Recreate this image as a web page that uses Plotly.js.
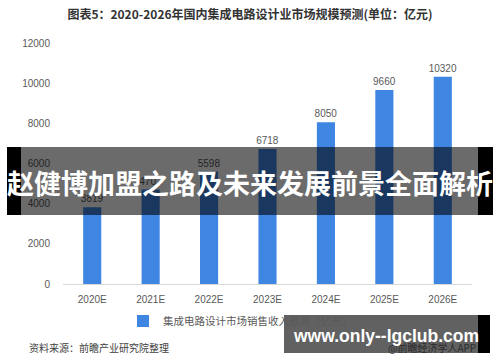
<!DOCTYPE html>
<html>
<head>
<meta charset="utf-8">
<script src="https://cdn.plot.ly/plotly-3.0.1.min.js"></script>
<style>
html,body{margin:0;padding:0;background:#fff;}
#chart{width:500px;height:362px;}
</style>
</head>
<body>
<div id="chart"></div>
<script>
const categories = ["2020E","2021E","2022E","2023E","2024E","2025E","2026E"];
const values = [3819, 4702, 5598, 6718, 8050, 9660, 10320];
const valueLabels = ["3819","4702","5598","6718","8050","9660","10320"];
const yTicks = [0, 2000, 4000, 6000, 8000, 10000, 12000];
const seriesName = "集成电路设计市场销售收入预测（亿元）";
const titleText = "图表5：2020-2026年国内集成电路设计业市场规模预测(单位：亿元)";
const sourceText = "资料来源：前瞻产业研究院整理";
const creditText = "@前瞻经济学人APP";
const bannerText = "赵健博加盟之路及未来发展前景全面解析";
const siteText = "www.only--lgclub.com";

const ML = 63, MT = 43, PW = 409, PH = 241;
const W = 500, H = 362;
const px = x => (x - ML) / PW;
const py = y => (MT + PH - y) / PH;

const FONT = '"Liberation Sans", "Noto Sans CJK SC", Arial, sans-serif';
const CJK = '"Noto Sans CJK SC", "Liberation Sans", sans-serif';

const trace = {
  type: 'bar',
  x: categories,
  y: values,
  name: seriesName,
  text: valueLabels,
  textposition: 'outside',
  constraintext: 'none',
  cliponaxis: false,
  textfont: {family: FONT, size: 10, color: '#595959'},
  marker: {color: '#3f86e2'},
  hoverinfo: 'x+y'
};

const layout = {
  width: W, height: H,
  margin: {l: ML, r: W - ML - PW, t: MT, b: H - MT - PH, pad: 0},
  paper_bgcolor: '#ffffff',
  plot_bgcolor: '#ffffff',
  bargap: 0.69,
  font: {family: FONT, color: '#595959', size: 10},
  title: {
    text: '<b>' + titleText + '</b>',
    x: 0.5, xref: 'container', xanchor: 'center',
    y: 1 - 15 / H, yref: 'container', yanchor: 'middle',
    font: {family: CJK, size: 12, color: '#333333'}
  },
  xaxis: {
    type: 'category',
    showgrid: false,
    showline: true, linecolor: '#d9d9d9', linewidth: 1,
    ticks: '', zeroline: false,
    tickfont: {family: FONT, size: 10, color: '#595959'},
    ticklabelstandoff: 6
  },
  yaxis: {
    range: [0, 12000],
    tickvals: yTicks,
    ticktext: yTicks.map(String),
    showgrid: false, zeroline: false, showline: false,
    ticks: '',
    tickfont: {family: FONT, size: 10, color: '#595959'},
    ticklabelstandoff: 12
  },
  showlegend: true,
  legend: {
    orientation: 'h',
    x: px(123), xanchor: 'left',
    y: py(321), yanchor: 'middle',
    font: {family: CJK, size: 10.5, color: '#595959'},
    bgcolor: 'rgba(0,0,0,0)',
    itemwidth: 30,
    itemclick: false
  },
  shapes: [
    {type: 'rect', xref: 'paper', yref: 'paper', layer: 'above', line: {width: 0},
     x0: px(7), x1: px(21), y0: py(215), y1: py(147), fillcolor: '#000000'},
    {type: 'rect', xref: 'paper', yref: 'paper', layer: 'above', line: {width: 0},
     x0: px(21), x1: px(478), y0: py(215), y1: py(147), fillcolor: 'rgba(0,0,0,0.58)'},
    {type: 'rect', xref: 'paper', yref: 'paper', layer: 'above', line: {width: 0},
     x0: px(478), x1: px(493), y0: py(215), y1: py(147), fillcolor: '#000000'},
    {type: 'rect', xref: 'paper', yref: 'paper', layer: 'above', line: {width: 0},
     x0: px(284), x1: px(478), y0: py(353), y1: py(315), fillcolor: 'rgba(0,0,0,0.62)'},
    {type: 'rect', xref: 'paper', yref: 'paper', layer: 'above', line: {width: 0},
     x0: px(478), x1: px(490), y0: py(353), y1: py(315), fillcolor: '#000000'}
  ],
  annotations: [
    {text: sourceText, xref: 'paper', yref: 'paper', x: px(27), y: py(347),
     xanchor: 'left', yanchor: 'middle', showarrow: false,
     font: {family: CJK, size: 10, color: '#404040'}},
    {text: creditText, xref: 'paper', yref: 'paper', x: px(478), y: py(347),
     xanchor: 'right', yanchor: 'middle', showarrow: false,
     font: {family: CJK, size: 10, color: '#2a2a2a'}},
    {text: '<b>' + bannerText + '</b>', xref: 'paper', yref: 'paper', x: px(250), y: py(183),
     xanchor: 'center', yanchor: 'middle', showarrow: false,
     font: {family: CJK, size: 27, color: '#ffffff'}},
    {text: '<b>' + siteText + '</b>', xref: 'paper', yref: 'paper', x: px(386), y: py(336),
     xanchor: 'center', yanchor: 'middle', showarrow: false,
     font: {family: '"Liberation Sans", Arial, sans-serif', size: 17.5, color: '#ffffff'}}
  ]
};

Plotly.newPlot('chart', [trace], layout, {displayModeBar: false, staticPlot: true});
</script>
</body>
</html>
